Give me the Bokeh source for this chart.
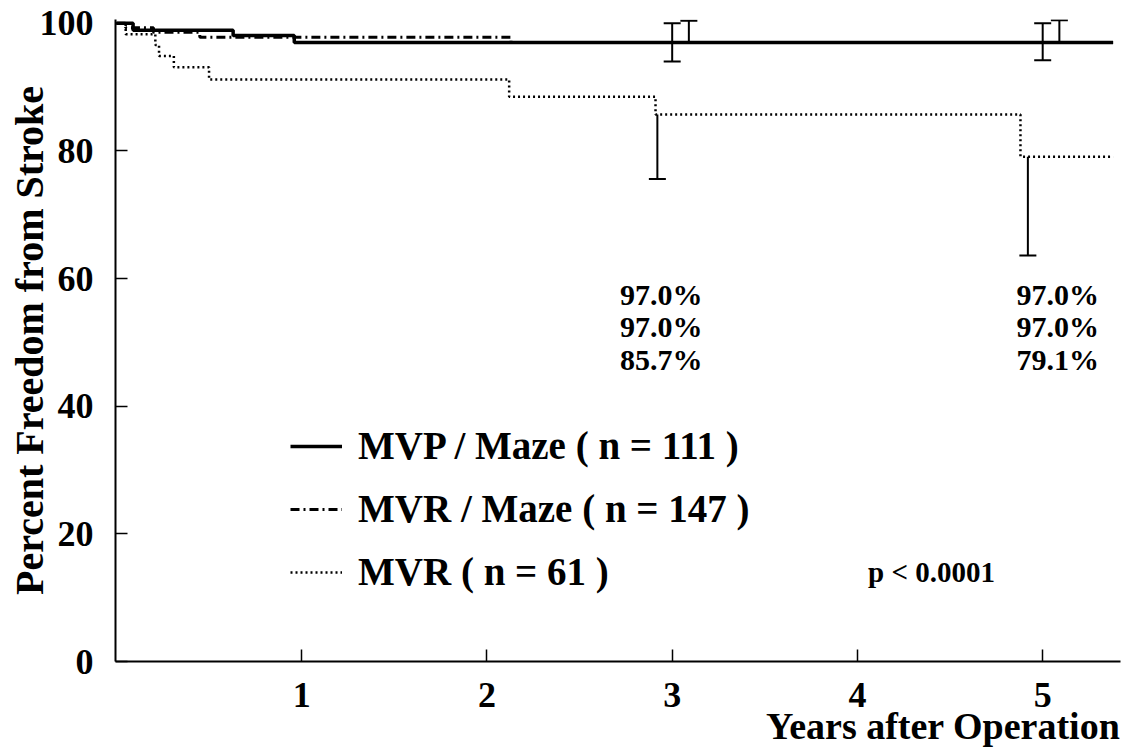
from bokeh.plotting import figure
from bokeh.models import (ColumnDataSource, Whisker, TeeHead, Legend, LegendItem,
                          FixedTicker, Range1d, Label, Title)
from bokeh.core.properties import value
from bokeh.embed import file_html
from bokeh.resources import INLINE

FONT = "Liberation Serif"

# Kaplan-Meier step points: years after operation, percent freedom from stroke
mvp_maze_t = [0.0, 0.09, 0.63, 0.96, 5.38]
mvp_maze_s = [100.0, 98.9, 98.1, 97.0, 97.0]

mvr_maze_t = [0.0, 0.05, 0.20, 0.45, 2.13, 5.38]
mvr_maze_s = [100.0, 99.3, 98.6, 97.8, 97.0, 97.0]

mvr_t = [0.0, 0.05, 0.21, 0.23, 0.31, 0.50, 2.12, 2.91, 4.88, 5.38]
mvr_s = [100.0, 98.3, 96.6, 94.9, 93.1, 91.2, 88.5, 85.7, 79.1, 79.1]

# Confidence bars at 3 and 5 years
mvp_err_x = [3.0, 5.0]
mvp_err_lo = [94.0, 94.2]
mvp_err_hi = [100.0, 100.0]

mvr_maze_err_x = [3.09, 5.09]
mvr_maze_err_lo = [97.0, 97.0]
mvr_maze_err_hi = [100.4, 100.5]

mvr_err_x = [2.92, 4.92]
mvr_err_lo = [75.6, 63.6]
mvr_err_hi = [85.7, 79.1]

# Actuarial rates printed under the curves
rate_years = [3, 5]
rate_mvp_maze = [97.0, 97.0]
rate_mvr_maze = [97.0, 97.0]
rate_mvr = [85.7, 79.1]

legend_labels = ["MVP / Maze ( n = 111 )", "MVR / Maze ( n = 147 )", "MVR ( n = 61 )"]
x_ticks = [1, 2, 3, 4, 5]
y_ticks = [0, 20, 40, 60, 80, 100]

p = figure(width=1126, height=751, output_backend="svg", toolbar_location=None,
           x_range=Range1d(-0.005, 5.42), y_range=Range1d(0, 100.6),
           min_border_left=115, min_border_right=6, min_border_top=19,
           min_border_bottom=90)
p.outline_line_color = None
p.xgrid.visible = False
p.ygrid.visible = False
p.background_fill_color = "white"

r_mvp = p.step(mvp_maze_t, mvp_maze_s, mode="after", line_color="black", line_width=3.5)
r_mvrm = p.step(mvr_maze_t, mvr_maze_s, mode="after", line_color="black", line_width=3,
                line_dash="9 4 2 4")
r_mvr = p.step(mvr_t, mvr_s, mode="after", line_color="black", line_width=2.5,
               line_dash="2 3")


def bars(xs, lo, hi, upper_cap, lower_cap):
    src = ColumnDataSource(dict(base=xs, lower=lo, upper=hi))
    w = Whisker(source=src, base="base", lower="lower", upper="upper",
                line_color="black", line_width=2,
                upper_head=TeeHead(size=17, line_width=2, line_color="black") if upper_cap else None,
                lower_head=TeeHead(size=17, line_width=2, line_color="black") if lower_cap else None)
    p.add_layout(w)


bars(mvp_err_x, mvp_err_lo, mvp_err_hi, True, True)
bars(mvr_maze_err_x, mvr_maze_err_lo, mvr_maze_err_hi, True, False)
bars(mvr_err_x, mvr_err_lo, mvr_err_hi, False, True)

# rate table: three rows under each time point
row_y = [57.5, 52.5, 47.3]
col_shift = {3: -11, 5: 15}
tx, ty, tt, toff = [], [], [], []
for i, yr in enumerate(rate_years):
    for k, series in enumerate([rate_mvp_maze, rate_mvr_maze, rate_mvr]):
        tx.append(yr)
        ty.append(row_y[k])
        tt.append(f"{series[i]:.1f}%")
        toff.append(col_shift[yr])
p.text(x="x", y="y", text="t", x_offset="off",
       source=ColumnDataSource(dict(x=tx, y=ty, t=tt, off=toff)),
       text_font=value(FONT), text_font_style="bold", text_font_size="30px",
       text_align="center", text_baseline="middle", text_color="black")

p.add_layout(Label(x=4.40, y=14.1, text="p < 0.0001", text_font=FONT,
                   text_font_style="bold", text_font_size="29px",
                   text_align="center", text_baseline="middle", text_color="black"))

legend = Legend(items=[LegendItem(label=legend_labels[0], renderers=[r_mvp]),
                       LegendItem(label=legend_labels[1], renderers=[r_mvrm]),
                       LegendItem(label=legend_labels[2], renderers=[r_mvr])],
                location=(175, 67))
legend.glyph_width = 52
legend.glyph_height = 44
legend.label_height = 44
legend.label_standoff = 16
legend.spacing = 18
legend.padding = 0
legend.margin = 0
legend.border_line_color = None
legend.background_fill_alpha = 0
legend.label_text_font = FONT
legend.label_text_font_style = "bold"
legend.label_text_font_size = "39px"
legend.label_text_color = "black"
p.add_layout(legend)

for ax in (p.xaxis[0], p.yaxis[0]):
    ax.axis_line_color = "black"
    ax.axis_line_width = 2
    ax.major_tick_in = 12
    ax.major_tick_out = 0
    ax.major_tick_line_width = 1.5
    ax.minor_tick_line_color = None
    ax.major_label_text_font = FONT
    ax.major_label_text_font_style = "bold"
    ax.major_label_text_font_size = "36px"
    ax.major_label_text_color = "black"

p.xaxis.ticker = FixedTicker(ticks=x_ticks)
p.yaxis.ticker = FixedTicker(ticks=y_ticks)
p.xaxis.major_label_standoff = 21
p.yaxis.major_label_standoff = 22

p.yaxis.axis_label = "Percent Freedom from Stroke"
p.yaxis.axis_label_text_font = FONT
p.yaxis.axis_label_text_font_style = "bold"
p.yaxis.axis_label_text_font_size = "40px"
p.yaxis.axis_label_text_color = "black"
p.yaxis.axis_label_standoff = -15

# x-axis title, right-aligned under the tick labels
p.add_layout(Title(text="Years after Operation", align="right", standoff=-14,
                   text_font=FONT, text_font_style="bold", text_font_size="38px",
                   text_color="black"), "below")

open("out.html", "w").write(file_html(p, INLINE))
